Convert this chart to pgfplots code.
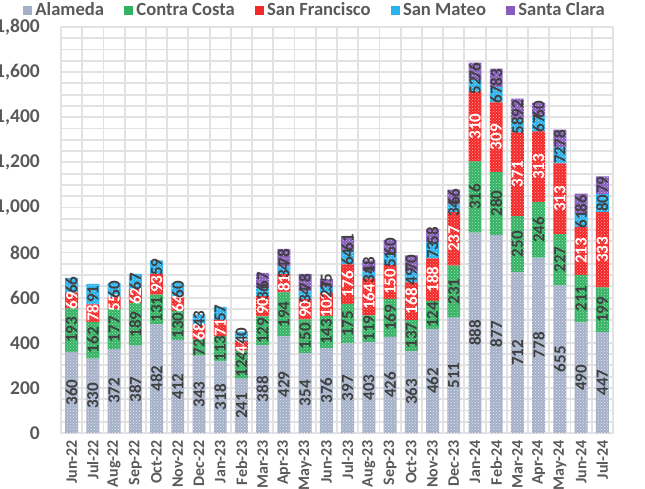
\documentclass[border=0pt]{standalone}
\usepackage{pgfplots}
\pgfplotsset{compat=1.18}
\usepackage{pgfplotstable}
\usetikzlibrary{patterns}
\usepackage{fontspec}
\setmainfont{Carlito}
\definecolor{cA}{RGB}{164,176,200}
\definecolor{cB}{RGB}{52,178,100}
\definecolor{cC}{RGB}{245,40,40}
\definecolor{cD}{RGB}{42,178,238}
\definecolor{cE}{RGB}{136,92,188}
\definecolor{txt}{RGB}{89,89,89}
\definecolor{lbl}{RGB}{64,64,64}
\definecolor{gridc}{RGB}{226,226,226}

\pgfplotstableread{
x a b c d e
0 360 193 69 66 0
1 330 162 78 91 0
2 372 177 55 60 0
3 387 189 62 67 0
4 482 131 93 59 0
5 412 130 64 60 0
6 343 72 68 43 0
7 318 113 71 57 0
8 241 124 44 40 0
9 388 129 90 36 67
10 429 194 81 34 78
11 354 150 90 34 78
12 376 143 102 27 35
13 397 175 176 64 61
14 403 119 164 31 48
15 426 169 150 51 60
16 363 137 168 49 70
17 462 124 188 73 58
18 511 231 237 34 66
19 888 316 310 52 76
20 877 280 309 67 83
21 712 250 371 58 92
22 778 246 313 67 60
23 655 227 313 72 78
24 490 211 213 61 86
25 447 199 333 80 79
}\data

\pgfplotsset{base/.style={
  width=552pt, height=406pt, scale only axis,
  xmin=-0.5, xmax=25.5, ymin=0, ymax=1800,
  at={(0pt,0pt)}, anchor=south west,
  /pgf/number format/assume math mode=true,
}}

\begin{document}
\begin{tikzpicture}
\path[use as bounding box, clip] (-61pt,-55pt) rectangle (584pt,433pt);
\begin{axis}[base,
  ybar stacked, bar width=0.61,
  axis line style={draw=gridc, line width=1.2pt},
  xtick={0,...,25},
  xticklabels={Jun-22,Jul-22,Aug-22,Sep-22,Oct-22,Nov-22,Dec-22,Jan-23,Feb-23,Mar-23,Apr-23,May-23,Jun-23,Jul-23,Aug-23,Sep-23,Oct-23,Nov-23,Dec-23,Jan-24,Feb-24,Mar-24,Apr-24,May-24,Jun-24,Jul-24},
  minor xtick={-0.5,0.5,...,25.5},
  ytick={0,200,...,1800},
  minor ytick={0,50,...,1800},
  xmajorgrids=false, xminorgrids=true, ymajorgrids=true, yminorgrids=true,
  grid style={draw=gridc, line width=1.8pt},
  minor grid style={draw=gridc, line width=1.8pt},
  major tick length=0pt, minor tick length=0pt,
  tick style={draw=none},
  scaled y ticks=false,
  /pgf/number format/1000 sep={,},
  xticklabel style={rotate=90, anchor=east, inner sep=0pt, font=\bfseries\fontsize{16}{16}\selectfont, text=txt},
  xticklabel shift=7pt,
  yticklabel style={anchor=east, inner sep=0pt, font=\bfseries\fontsize{19.5}{19.5}\selectfont, text=txt},
  yticklabel shift=21pt,
]
\addplot[fill=cA, draw=none, postaction={pattern=crosshatch dots, pattern color=white!70!cA}] table[x=x, y=a] {\data};
\addplot[fill=cB, draw=none, postaction={pattern=crosshatch dots, pattern color=white!60!cB}] table[x=x, y=b] {\data};
\addplot[fill=cC, draw=none, postaction={pattern=crosshatch dots, pattern color=white!60!cC}] table[x=x, y=c] {\data};
\addplot[fill=cD, draw=none, postaction={pattern=crosshatch dots, pattern color=white!60!cD}] table[x=x, y=d] {\data};
\addplot[fill=cE, draw=none, postaction={pattern=crosshatch dots, pattern color=white!60!cE}] table[x=x, y=e] {\data};
\end{axis}
\begin{axis}[base,
  axis lines=none,
  point meta=explicit,
  nodes near coords={\pgfmathprintnumber{\pgfplotspointmeta}},
  every node near coord/.append style={rotate=90, anchor=center, inner sep=0pt, font=\bfseries\fontsize{17}{17}\selectfont, text=lbl},
  legend style={at={(axis description cs:0.46,1.0419)}, anchor=center, draw=none, fill=none,
    legend columns=-1, font=\bfseries\fontsize{18.6}{18.6}\selectfont, text=txt,
    /tikz/every odd column/.append style={column sep=2pt},
    /tikz/every even column/.append style={column sep=18pt}},
]
\addplot[draw=none, mark=none, forget plot] table[x=x, y expr=\thisrow{a}/2, meta=a] {\data};
\addplot[draw=none, mark=none, forget plot] table[x=x, y expr=\thisrow{a}+\thisrow{b}/2, meta=b] {\data};
\addplot[draw=none, mark=none, forget plot, every node near coord/.append style={text=white}] table[x=x, y expr=\thisrow{a}+\thisrow{b}+\thisrow{c}/2, meta=c] {\data};
\addplot[draw=none, mark=none, forget plot] table[x=x, y expr=\thisrow{a}+\thisrow{b}+\thisrow{c}+\thisrow{d}/2, meta=d] {\data};
\addplot[draw=none, mark=none, forget plot, skip coords between index={0}{9}] table[x=x, y expr=\thisrow{a}+\thisrow{b}+\thisrow{c}+\thisrow{d}+\thisrow{e}/2, meta=e] {\data};
\addlegendimage{legend image code/.code={\fill[cA] (0pt,-4pt) rectangle (8pt,4pt);}}
\addlegendentry{Alameda}
\addlegendimage{legend image code/.code={\fill[cB] (0pt,-4pt) rectangle (8pt,4pt);}}
\addlegendentry{Contra Costa}
\addlegendimage{legend image code/.code={\fill[cC] (0pt,-4pt) rectangle (8pt,4pt);}}
\addlegendentry{San Francisco}
\addlegendimage{legend image code/.code={\fill[cD] (0pt,-4pt) rectangle (8pt,4pt);}}
\addlegendentry{San Mateo}
\addlegendimage{legend image code/.code={\fill[cE] (0pt,-4pt) rectangle (8pt,4pt);}}
\addlegendentry{Santa Clara}
\end{axis}
\end{tikzpicture}
\end{document}
